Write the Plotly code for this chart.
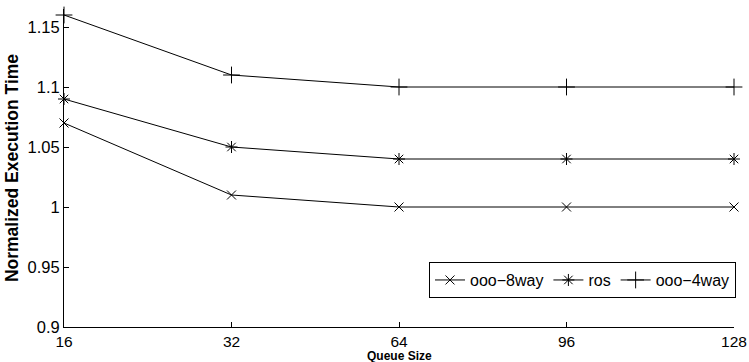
import plotly.graph_objects as go

queue_size = ["16", "32", "64", "96", "128"]
ooo_8way = [1.07, 1.01, 1.00, 1.00, 1.00]
ros = [1.09, 1.05, 1.04, 1.04, 1.04]
ooo_4way = [1.16, 1.11, 1.10, 1.10, 1.10]

y_ticks = [0.9, 0.95, 1.0, 1.05, 1.1, 1.15]
y_tick_text = ["0.9", "0.95", "1", "1.05", "1.1", "1.15"]

series = [
    ("ooo\u22128way", ooo_8way, "x-thin-open", 9),
    ("ros", ros, "asterisk-open", 10),
    ("ooo\u22124way", ooo_4way, "cross-thin-open", 12),
]

fig = go.Figure()
for name, vals, sym, sz in series:
    fig.add_trace(go.Scatter(
        x=queue_size, y=vals, name=name, mode="lines+markers",
        line=dict(color="black", width=1),
        marker=dict(symbol=sym, size=sz, color="black",
                    line=dict(color="black", width=1)),
        cliponaxis=False,
    ))

font = "Liberation Sans, Arial, sans-serif"
fig.update_layout(
    width=749, height=362,
    margin=dict(l=64, r=15, t=9, b=35),
    plot_bgcolor="white", paper_bgcolor="white",
    font=dict(family=font, size=16.5, color="black"),
    showlegend=True,
    legend=dict(
        orientation="h", x=1.003, xanchor="right", y=0.091, yanchor="bottom",
        bordercolor="black", borderwidth=1, bgcolor="white",
        font=dict(size=16), itemwidth=30, tracegroupgap=0,
    ),
    xaxis=dict(
        type="category", range=[0, 4], ticks="inside", ticklen=5,
        tickcolor="black", showline=True, linecolor="black", linewidth=1,
        showgrid=False, zeroline=False, automargin=False,
        tickfont=dict(size=15.5),
    ),
    yaxis=dict(
        range=[0.9, 1.165], tickvals=y_ticks, ticktext=y_tick_text,
        ticks="inside", ticklen=5, tickcolor="black", showline=True,
        linecolor="black", linewidth=1, showgrid=False, zeroline=False,
        automargin=False,
        title=dict(text="<b>Normalized Execution Time</b>", font=dict(size=17.5),
                   standoff=4),
    ),
    annotations=[dict(
        text="<b>Queue Size</b>", xref="paper", yref="paper",
        x=0.5, y=-0.110, xanchor="center", yanchor="bottom",
        showarrow=False, font=dict(size=12), borderpad=0, yshift=-2,
    )],
)

fig.write_html("out.html")
